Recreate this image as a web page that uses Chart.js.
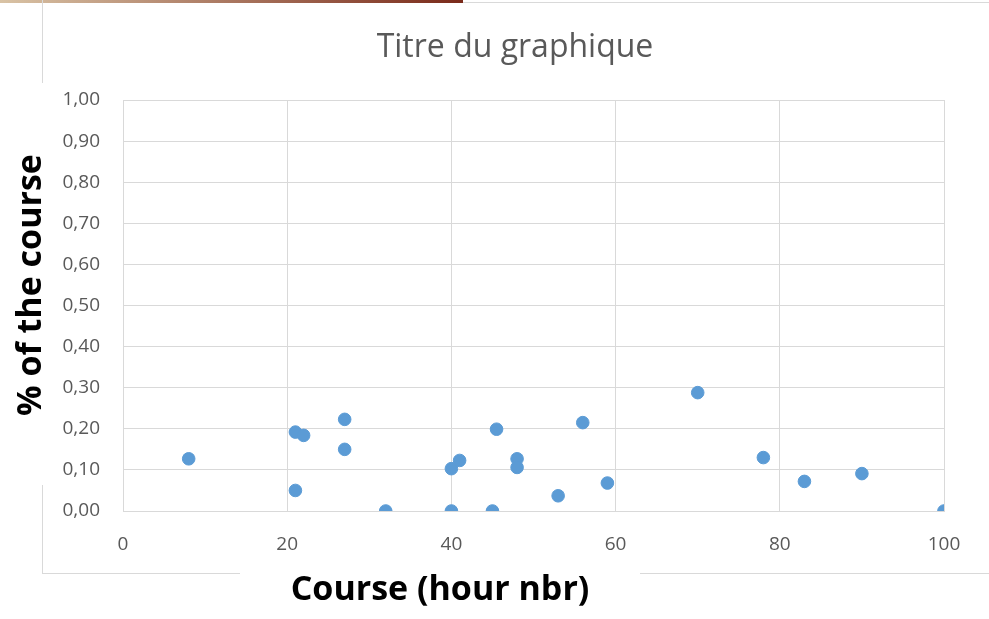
<!DOCTYPE html>
<html>
<head>
<meta charset="utf-8">
<script src="https://cdn.jsdelivr.net/npm/chart.js@4"></script>
<style>
  html, body { margin: 0; padding: 0; background: #fff; }
  #wrap { width: 989px; height: 619px; position: relative; }
</style>
</head>
<body>
<div id="wrap"><canvas id="myChart" width="989" height="619"></canvas></div>
<script>
// hours of the course (x) and share of the course (y)
const hours = [8, 21, 22, 27, 27, 21, 32, 40, 41, 45.5, 48, 48, 56, 53, 59, 40, 45, 70, 78, 83, 90, 100];
const share = [0.127, 0.192, 0.184, 0.223, 0.150, 0.050, 0, 0.103, 0.123, 0.199, 0.127, 0.106, 0.215, 0.037, 0.068, 0, 0, 0.288, 0.130, 0.072, 0.091, 0];

const xTicks = [0, 20, 40, 60, 80, 100];
const yTicks = [0, 0.1, 0.2, 0.3, 0.4, 0.5, 0.6, 0.7, 0.8, 0.9, 1.0];

const chartTitle = "Titre du graphique";
const xTitle = "Course (hour nbr)";
const yTitle = "% of the course";

const points = hours.map((h, i) => ({x: h, y: share[i]}));

const gridGrey = "#d9d9d9";
const textGrey = "#595959";

// bits of the Excel frame that show in the screenshot
const frameBits = {
  id: "frameBits",
  beforeDraw(chart) {
    const c = chart.ctx;
    c.save();
    const g = c.createLinearGradient(0, 0, 463, 0);
    g.addColorStop(0, "#d9c3a5");
    g.addColorStop(1, "#7a2a1a");
    c.fillStyle = g;
    c.fillRect(0, 0, 463, 3);
    c.strokeStyle = gridGrey;
    c.lineWidth = 1;
    c.beginPath();
    c.moveTo(463, 2.5); c.lineTo(989, 2.5);
    c.moveTo(42.5, 0); c.lineTo(42.5, 83);
    c.moveTo(42.5, 485); c.lineTo(42.5, 573);
    c.moveTo(42, 573.5); c.lineTo(240, 573.5);
    c.moveTo(640, 573.5); c.lineTo(989, 573.5);
    c.stroke();
    c.restore();
  },
  // Excel places the titles off the scale centres, so draw them here
  afterDraw(chart) {
    const c = chart.ctx;
    c.save();
    c.textAlign = "center";
    c.textBaseline = "alphabetic";
    c.fillStyle = textGrey;
    c.font = "32px 'Open Sans'";
    c.fillText(chartTitle, 515, 57);
    c.fillStyle = "#000";
    c.font = "bold 34px 'Open Sans'";
    c.fillText(xTitle, 440, 600);
    c.translate(41, 285);
    c.rotate(-Math.PI / 2);
    c.fillText(yTitle, 0, 0);
    c.restore();
  }
};

new Chart("myChart", {
  type: "scatter",
  data: {
    datasets: [{
      data: points,
      backgroundColor: "#5b9bd5",
      borderColor: "#5b9bd5",
      pointRadius: 6.3,
      pointHoverRadius: 6.3
    }]
  },
  options: {
    responsive: false,
    animation: false,
    layout: {padding: {left: 0, right: 45, top: 100, bottom: 0}},
    plugins: {
      legend: {display: false},
      tooltip: {enabled: false},
      title: {display: false}
    },
    scales: {
      x: {
        type: "linear",
        min: 0, max: 100,
        afterBuildTicks: s => { s.ticks = xTicks.map(v => ({value: v})); },
        afterFit: s => { s.height = 108; },
        grid: {color: gridGrey, drawTicks: false},
        border: {color: gridGrey},
        ticks: {color: textGrey, padding: 22, font: {family: "'Open Sans'", size: 19}}
      },
      y: {
        type: "linear",
        min: 0, max: 1,
        afterBuildTicks: s => { s.ticks = yTicks.map(v => ({value: v})); },
        afterFit: s => { s.width = 123; },
        grid: {color: gridGrey, drawTicks: false},
        border: {color: gridGrey},
        ticks: {
          color: textGrey, padding: 23,
          font: {family: "'Open Sans'", size: 19},
          callback: v => v.toFixed(2).replace(".", ",")
        }
      }
    }
  },
  plugins: [frameBits]
});
</script>
</body>
</html>
